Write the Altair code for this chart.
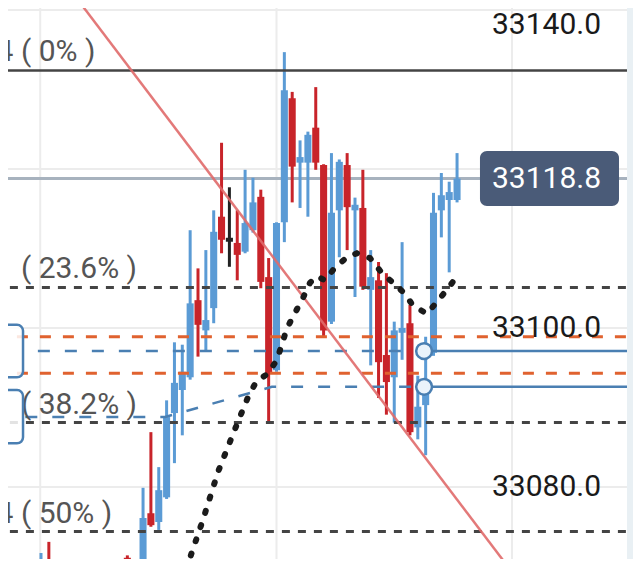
import altair as alt
import pandas as pd

# ---------------- data ----------------
IDX = [0, 1, 10, 11, 12, 13, 14, 15, 16, 17, 18, 19, 20, 21, 22, 23, 24, 25, 26, 27,
       28, 29, 30, 31, 32, 33, 34, 35, 36, 37, 38, 39, 40, 41, 42, 43, 44, 45, 46, 47,
       48, 49, 50, 51, 52, 53]
OPEN = [33065.0, 33070.2, 33068.0, 33071.1, 33068.0, 33070.8, 33076.7, 33075.6, 33078.7, 33089.3,
        33092.2, 33093.8, 33103.5, 33099.7, 33102.5, 33114.0, 33111.1, 33110.7, 33109.6, 33112.3,
        33116.5, 33106.4, 33094.7, 33113.3, 33128.9, 33120.8, 33120.8, 33125.2, 33120.5, 33100.8,
        33114.8, 33120.5, 33114.8, 33115.1, 33104.8, 33106.0, 33096.6, 33093.8, 33099.4, 33100.6,
        33087.5, 33090.3, 33096.9, 33114.8, 33116.1, 33116.1]
HIGH = [33071.7, 33073.1, 33070.8, 33071.4, 33070.8, 33079.9, 33086.9, 33082.5, 33090.9, 33098.2,
        33097.9, 33112.3, 33107.5, 33109.8, 33114.8, 33123.3, 33117.7, 33114.8, 33119.9, 33118.9,
        33117.4, 33108.8, 33113.3, 33134.7, 33129.7, 33123.6, 33124.7, 33130.3, 33120.6, 33122.0,
        33121.2, 33122.0, 33116.4, 33119.9, 33109.8, 33108.3, 33106.9, 33100.8, 33110.8, 33102.9,
        33094.0, 33098.9, 33117.0, 33119.5, 33118.4, 33122.0]
LOW = [33063.0, 33065.0, 33066.0, 33066.0, 33067.0, 33069.5, 33075.0, 33074.6, 33078.5, 33083.0,
       33086.5, 33093.5, 33096.4, 33097.0, 33100.6, 33109.4, 33107.7, 33106.0, 33109.4, 33112.0,
       33105.0, 33088.1, 33094.5, 33110.8, 33115.8, 33115.1, 33114.0, 33119.9, 33098.9, 33100.5,
       33108.9, 33109.8, 33103.9, 33104.8, 33095.3, 33091.2, 33089.1, 33088.1, 33096.0, 33086.5,
       33086.0, 33084.0, 33096.5, 33111.4, 33107.0, 33115.8]
CLOSE = [33068.0, 33067.0, 33070.4, 33068.0, 33070.6, 33076.1, 33075.2, 33079.6, 33088.8, 33093.1,
         33094.5, 33103.1, 33100.4, 33101.0, 33112.1, 33111.1, 33111.1, 33109.2, 33113.2, 33115.8,
         33105.8, 33094.3, 33113.2, 33129.9, 33120.3, 33121.5, 33124.3, 33120.8, 33099.7, 33114.5,
         33120.9, 33115.2, 33115.5, 33105.2, 33106.4, 33095.7, 33093.2, 33099.7, 33100.0, 33086.9,
         33090.1, 33091.8, 33114.5, 33116.7, 33117.1, 33118.8]

GRID_PRICES = [33140, 33120, 33100, 33080]
TICK_LABELS = [33140, 33100, 33080]
GRID_IDX = [-0.1, 30, 60]

FIB_PCT = ["0%", "23.6%", "38.2%", "50%"]
FIB_PRICE = [33132.4, 33105.1, 33088.1, 33074.4]

ORANGE_PRICES = [33098.9, 33094.3]
BLUE_UPPER = 33097.1
BLUE_UPPER_START = -0.4
BLUE_LOWER_IDX = [-2.0, 15.8, 29.4, 48.8]
BLUE_LOWER_PRICE = [33088.8, 33088.8, 33092.6, 33092.6]
HANDLE_IDX = 48.8
HANDLE_PRICES = [33097.1, 33092.6]
BOX_TOP = [33100.4, 33092.2]
BOX_BOTTOM = [33093.8, 33085.5]
LAST_PRICE = 33118.8

TREND_IDX = [-5.0, 65.0]
TREND_PRICE = [33153.9, 33062.8]

MA_IDX = [18.47, 20.64, 22.55, 24.84, 26.37, 27.39, 28.92, 30.06, 31.34, 33.38, 34.27, 35.16,
          36.18, 37.45, 38.98, 40.25, 41.91, 43.44, 44.84, 46.37, 47.39, 49.17, 50.45, 51.85, 53.0]
MA_PRICE = [33069.6, 33075.9, 33081.9, 33087.6, 33091.3, 33093.2, 33094.3, 33096.0, 33100.0,
            33103.8, 33105.7, 33106.5, 33106.0, 33107.6, 33108.9, 33109.4, 33108.8, 33106.9,
            33105.7, 33104.3, 33102.8, 33101.8, 33103.3, 33105.0, 33106.5]

# ---------------- layout / style ----------------
W, H = 625, 551
X_DOM = [-4.204, 75.414]
Y_DOM = [33070.944, 33140.252]
RIGHT_EDGE = 74.65
LEFT_OUT = -6.0
LABEL_LEFT_IDX = -17.4
LABEL_RIGHT_IDX = 57.45
TAG_X = [55.92, 73.63]
TAG_HALF = 3.45
BOX_X = [-6.0, -2.29]

UP = "#5B9BD5"
DOWN = "#E3161B"
DOWN_WICK = "#C8242A"
FLAT = "#222222"
BLUE_LINE = "#4A7FB2"
ORANGE = "#E0622F"
FIB = "#444444"
GRID = "#ECECEC"
FONT = "Roboto"

xs = alt.Scale(domain=X_DOM, nice=False, zero=False)
ys = alt.Scale(domain=Y_DOM, nice=False, zero=False)


def X(f):
    return alt.X(f, type="quantitative", scale=xs, axis=None)


def Y(f):
    return alt.Y(f, type="quantitative", scale=ys, axis=None)


# candles
df = pd.DataFrame(dict(i=IDX, o=OPEN, h=HIGH, l=LOW, c=CLOSE))
df["dir"] = ["up" if c > o else ("down" if c < o else "flat") for o, c in zip(OPEN, CLOSE)]
df["top"] = df[["o", "c"]].max(axis=1)
df["bot"] = df[["o", "c"]].min(axis=1)
flat = df["dir"] == "flat"
df.loc[flat, "top"] += 0.25
df.loc[flat, "bot"] -= 0.25
df["x0"] = df["i"] - 0.45
df["x1"] = df["i"] + 0.45

wick_color = alt.Color("dir:N", scale=alt.Scale(domain=["up", "down", "flat"],
                                                 range=[UP, DOWN_WICK, FLAT]), legend=None)
body_color = alt.Color("dir:N", scale=alt.Scale(domain=["up", "down", "flat"],
                                                 range=[UP, DOWN, FLAT]), legend=None)

wicks = alt.Chart(df).mark_rule(strokeWidth=3, clip=True).encode(
    x=X("i"), y=Y("l"), y2=alt.Y2("h"), color=wick_color)
bodies = alt.Chart(df).mark_rect(clip=True).encode(
    x=X("x0"), x2=alt.X2("x1"), y=Y("top"), y2=alt.Y2("bot"), color=body_color)

# grid
hgrid_df = pd.DataFrame(dict(p=GRID_PRICES, x0=LEFT_OUT, x1=RIGHT_EDGE))
hgrid = alt.Chart(hgrid_df).mark_rule(color=GRID, strokeWidth=2, clip=True).encode(
    x=X("x0"), x2=alt.X2("x1"), y=Y("p"))
vgrid_df = pd.DataFrame(dict(i=GRID_IDX, p0=Y_DOM[0] - 5, p1=Y_DOM[1] + 5))
vgrid = alt.Chart(vgrid_df).mark_rule(color=GRID, strokeWidth=2, clip=True).encode(
    x=X("i"), y=Y("p0"), y2=alt.Y2("p1"))

# last price line
last_df = pd.DataFrame(dict(p=[LAST_PRICE], x0=LEFT_OUT, x1=RIGHT_EDGE))
last_line = alt.Chart(last_df).mark_rule(color="#A7B2BE", strokeWidth=3, clip=True).encode(
    x=X("x0"), x2=alt.X2("x1"), y=Y("p"))

# fib levels
fib_df = pd.DataFrame(dict(p=FIB_PRICE, pct=FIB_PCT, x0=LEFT_OUT, x1=RIGHT_EDGE,
                           xl=LABEL_LEFT_IDX))
fib_df["label"] = [f"{p:.1f} ( {q} )" for p, q in zip(FIB_PRICE, FIB_PCT)]
fib_solid = alt.Chart(fib_df[fib_df["pct"] == "0%"]).mark_rule(
    color=FIB, strokeWidth=2.5, clip=True).encode(x=X("x0"), x2=alt.X2("x1"), y=Y("p"))
fib_dash = alt.Chart(fib_df[fib_df["pct"] != "0%"]).mark_rule(
    color=FIB, strokeWidth=3, strokeDash=[8, 8], clip=True).encode(
    x=X("x0"), x2=alt.X2("x1"), y=Y("p"))
fib_text = alt.Chart(fib_df).mark_text(
    font=FONT, fontSize=30, color="#555555", align="left", baseline="alphabetic", dy=-9).encode(
    x=X("xl"), y=Y("p"), text="label:N")

# orange lines
or_df = pd.DataFrame(dict(p=ORANGE_PRICES, x0=LEFT_OUT, x1=RIGHT_EDGE))
orange = alt.Chart(or_df).mark_rule(color=ORANGE, strokeWidth=3, strokeDash=[11, 12],
                                    clip=True).encode(x=X("x0"), x2=alt.X2("x1"), y=Y("p"))

# blue lines
bu_df = pd.DataFrame(dict(p=[BLUE_UPPER], x0=BLUE_UPPER_START, x1=HANDLE_IDX))
blue_up_dash = alt.Chart(bu_df).mark_rule(color=BLUE_LINE, strokeWidth=2.5, strokeDash=[12, 15],
                                          clip=True).encode(x=X("x0"), x2=alt.X2("x1"), y=Y("p"))
bl_df = pd.DataFrame(dict(i=BLUE_LOWER_IDX, p=BLUE_LOWER_PRICE, k=range(len(BLUE_LOWER_IDX))))
blue_low_dash = alt.Chart(bl_df).mark_line(color=BLUE_LINE, strokeWidth=2.5, strokeDash=[12, 15],
                                           clip=True).encode(x=X("i"), y=Y("p"), order="k:Q")
solid_df = pd.DataFrame(dict(p=HANDLE_PRICES, x0=HANDLE_IDX, x1=RIGHT_EDGE))
blue_solid = alt.Chart(solid_df).mark_rule(color=BLUE_LINE, strokeWidth=2.5, clip=True).encode(
    x=X("x0"), x2=alt.X2("x1"), y=Y("p"))
handles = alt.Chart(pd.DataFrame(dict(i=HANDLE_IDX, p=HANDLE_PRICES))).mark_point(
    shape="circle", filled=True, fill="#EAF3FB", stroke=BLUE_LINE, strokeWidth=2.5,
    size=250, opacity=1).encode(x=X("i"), y=Y("p"))

box_df = pd.DataFrame(dict(x0=BOX_X[0], x1=BOX_X[1], t=BOX_TOP, b=BOX_BOTTOM))
boxes = alt.Chart(box_df).mark_rect(clip=True, cornerRadius=6, fill="white", fillOpacity=0.85,
                                    stroke=BLUE_LINE, strokeWidth=2.5).encode(
    x=X("x0"), x2=alt.X2("x1"), y=Y("t"), y2=alt.Y2("b"))

# trend line
tr_df = pd.DataFrame(dict(i=TREND_IDX, p=TREND_PRICE))
trend = alt.Chart(tr_df).mark_line(color="#E06A6A", strokeWidth=2.5, opacity=0.9,
                                   clip=True).encode(x=X("i"), y=Y("p"))

# dotted moving average
ma_df = pd.DataFrame(dict(i=MA_IDX, p=MA_PRICE))
ma = alt.Chart(ma_df).mark_line(color="#1B1B1B", strokeWidth=6, strokeDash=[2, 13],
                                strokeCap="round", clip=True).encode(x=X("i"), y=Y("p"))

# right price labels (the top one is nudged down so it stays inside the view)
tick_df = pd.DataFrame(dict(p=TICK_LABELS, xl=LABEL_RIGHT_IDX))
tick_df["label"] = [f"{p:.1f}" for p in TICK_LABELS]
tick_df["top"] = tick_df["p"] == max(TICK_LABELS)
ticks = alt.Chart(tick_df[~tick_df["top"]]).mark_text(
    font=FONT, fontSize=30, color="#1A1A1A", align="left", baseline="middle").encode(
    x=X("xl"), y=Y("p"), text="label:N")
tick_top = alt.Chart(tick_df[tick_df["top"]]).mark_text(
    font=FONT, fontSize=30, color="#1A1A1A", align="left", baseline="top", dy=0).encode(
    x=X("xl"), y=Y("p"), text="label:N")

# price tag
tag_df = pd.DataFrame(dict(x0=[TAG_X[0]], x1=[TAG_X[1]], t=[LAST_PRICE + TAG_HALF],
                           b=[LAST_PRICE - TAG_HALF], p=[LAST_PRICE], xl=[LABEL_RIGHT_IDX]))
tag_df["label"] = [f"{LAST_PRICE:.1f}"]
tag_box = alt.Chart(tag_df).mark_rect(cornerRadius=7, color="#4A5B78").encode(
    x=X("x0"), x2=alt.X2("x1"), y=Y("t"), y2=alt.Y2("b"))
tag_text = alt.Chart(tag_df).mark_text(font=FONT, fontSize=30, color="white", align="left",
                                       baseline="middle").encode(
    x=X("xl"), y=Y("p"), text="label:N")

# right strip
strip_df = pd.DataFrame(dict(x0=[RIGHT_EDGE], x1=[X_DOM[1] + 5], p0=[Y_DOM[0] - 5],
                             p1=[Y_DOM[1] + 5]))
strip = alt.Chart(strip_df).mark_rect(color="#E9F0F4", clip=True).encode(
    x=X("x0"), x2=alt.X2("x1"), y=Y("p0"), y2=alt.Y2("p1"))

chart = alt.layer(
    hgrid, vgrid, last_line, wicks, bodies, fib_solid, fib_dash, orange,
    blue_up_dash, blue_low_dash, blue_solid, trend, ma, handles, fib_text, boxes,
    ticks, tick_top, tag_box, tag_text, strip
).properties(
    width=W, height=H,
    autosize=alt.AutoSizeParams(type="none"),
    padding={"left": 0, "top": 0, "right": 0, "bottom": 0},
    background="white",
).configure_view(stroke="transparent")

chart.save("out.html", embed_options={"renderer": "svg", "actions": False})
